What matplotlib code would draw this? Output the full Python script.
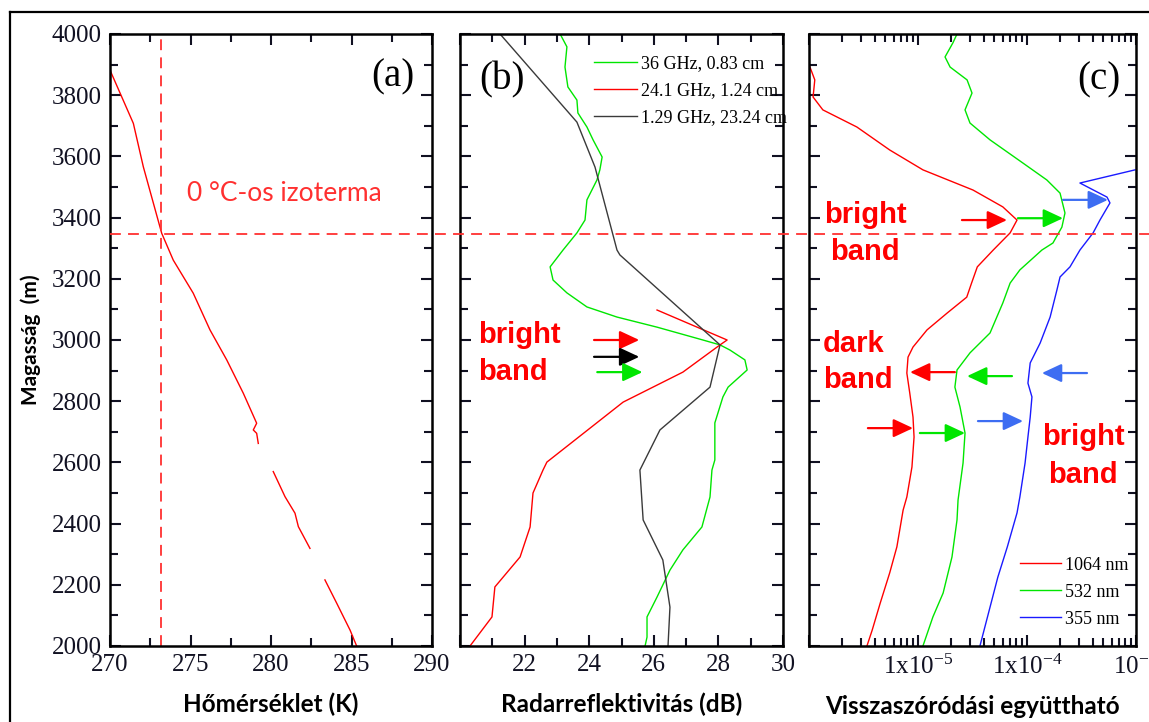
import numpy as np
import matplotlib
matplotlib.use("Agg")
import matplotlib.pyplot as plt
import matplotlib.transforms as mtransforms
from matplotlib.lines import Line2D
from matplotlib.ticker import MultipleLocator, FixedLocator, LogLocator, NullFormatter

plt.rcParams["font.family"] = ["Liberation Serif", "DejaVu Serif"]
plt.rcParams["mathtext.fontset"] = "custom"
plt.rcParams["mathtext.rm"] = "Liberation Serif"
plt.rcParams["mathtext.it"] = "Liberation Serif:italic"
plt.rcParams["mathtext.bf"] = "Liberation Serif:bold"

SANS = ["Lato", "DejaVu Sans"]
ARIAL = ["Liberation Sans", "DejaVu Sans"]

# (a) temperature sounding, NaN marks the gaps in the record
temp_k = [270.0, 271.45, 272.07, 273.21, 273.93, 274.55, 275.17, 276.21, 277.25,
          278.28, 279.11, 278.90, 279.11, 279.21, np.nan,
          280.14, 280.87, 281.49, 281.70, 282.42, np.nan,
          283.35, 284.08, 284.91, 285.32]
temp_h = [3882, 3708, 3566, 3349, 3261, 3207, 3153, 3033, 2935,
          2826, 2728, 2706, 2695, 2662, np.nan,
          2570, 2488, 2434, 2390, 2319, np.nan,
          2216, 2140, 2052, 2000]
iso_temp = 273.15
iso_height = 3345

# (b) radar reflectivity profiles
ka_db = [23.10, 23.31, 23.25, 23.34, 23.62, 23.65, 23.93, 24.12, 24.40, 24.33,
         24.24, 23.93, 23.87, 23.62, 23.19, 22.79, 22.88, 23.31, 23.93, 24.86,
         26.10, 27.52, 28.05, 28.36, 28.82, 28.89, 28.30, 28.14, 27.89, 27.89,
         27.80, 27.74, 27.49, 26.90, 26.50, 26.10, 25.79, 25.79, 25.73]
ka_h = [4000, 3958, 3892, 3827, 3784, 3742, 3696, 3654, 3598, 3556,
        3523, 3458, 3392, 3350, 3294, 3239, 3196, 3154, 3108, 3075,
        3042, 3000, 2984, 2967, 2935, 2902, 2846, 2814, 2729, 2608,
        2575, 2487, 2389, 2314, 2248, 2160, 2095, 2029, 2000]
k_db = [26.10, 28.27, 28.05, 26.90, 25.05, 22.69, 22.57, 22.26, 22.17, 21.86,
        21.08, 20.99, 20.31]
k_h = [3098, 3000, 2984, 2895, 2797, 2601, 2575, 2500, 2389, 2291,
       2193, 2095, 2000]
l_db = [21.24, 23.62, 24.18, 24.86, 24.95, 28.05, 27.74, 26.19, 25.57, 25.67,
        26.28, 26.50, 26.44]
l_h = [4000, 3712, 3565, 3294, 3278, 2984, 2846, 2706, 2575, 2412,
       2281, 2127, 2000]
radar_labels = ["36 GHz, 0.83 cm", "24.1 GHz, 1.24 cm", "1.29 GHz, 23.24 cm"]

# (c) lidar backscatter coefficient profiles
ir_beta = [1.02e-6, 1.13e-6, 1.09e-6, 1.34e-6, 2.75e-6, 5.5e-6, 1.11e-5, 3.2e-5,
           6.0e-5, 8.1e-5, 7.0e-5, 4.9e-5, 3.5e-5, 3.1e-5, 2.8e-5, 1.85e-5,
           1.21e-5, 9.0e-6, 8.1e-6, 7.9e-6, 8.4e-6, 9.0e-6, 9.2e-6, 8.8e-6,
           7.9e-6, 7.3e-6, 6.4e-6, 5.5e-6, 4.5e-6, 3.8e-6, 3.4e-6]
ir_h = [3892, 3850, 3794, 3752, 3696, 3621, 3556, 3490,
        3435, 3392, 3350, 3294, 3239, 3186, 3140, 3088,
        3033, 2977, 2944, 2892, 2827, 2748, 2683, 2585,
        2487, 2444, 2324, 2239, 2140, 2052, 2000]
vis_beta = [2.28e-5, 2.09e-5, 1.77e-5, 1.97e-5, 2.82e-5, 3.13e-5, 2.70e-5, 3.0e-5,
            4.58e-5, 9.2e-5, 1.52e-4, 2.01e-4, 2.23e-4, 2.09e-4, 1.73e-4, 1.37e-4,
            8.6e-5, 7.0e-5, 6.0e-5, 4.58e-5, 3.0e-5, 2.28e-5, 2.18e-5, 2.43e-5,
            2.70e-5, 2.59e-5, 2.33e-5, 2.28e-5, 2.05e-5, 1.70e-5, 1.37e-5, 1.11e-5]
vis_h = [4000, 3971, 3925, 3892, 3850, 3807, 3752, 3709,
         3654, 3578, 3523, 3480, 3415, 3369, 3317, 3294,
         3229, 3186, 3121, 3023, 2958, 2902, 2846, 2781,
         2696, 2598, 2477, 2412, 2291, 2173, 2095, 2000]
uv_beta = [9.8e-4, 3.06e-4, 5.42e-4, 5.77e-4, 4.67e-4, 4.04e-4, 3.06e-4, 2.48e-4,
           2.01e-4, 1.88e-4, 1.63e-4, 1.32e-4, 1.07e-4, 1.02e-4, 1.11e-4, 1.07e-4,
           1.02e-4, 9.6e-5, 8.6e-5, 8.1e-5, 6.6e-5, 5.4e-5, 4.58e-5, 3.7e-5]
uv_h = [3556, 3513, 3467, 3448, 3392, 3350, 3294, 3239,
        3206, 3163, 3075, 2990, 2925, 2859, 2814, 2748,
        2683, 2598, 2487, 2435, 2324, 2225, 2127, 2000]
lidar_labels = ["1064 nm", "532 nm", "355 nm"]

RED = "#ff0000"
GREEN = "#00e600"
BLACK = "#3a3a3a"
BLUE = "#1a1aff"
ARROW_BLUE = "#3d6df2"
DASH_RED = "#ff3030"

fig = plt.figure(figsize=(11.49, 7.22), dpi=100)
W, H = 1149.0, 722.0
bottom = 1 - 646 / H
height = 612 / H
ax_a = fig.add_axes([110 / W, bottom, 322 / W, height])
ax_b = fig.add_axes([460 / W, bottom, 323 / W, height])
ax_c = fig.add_axes([809 / W, bottom, 327 / W, height])

for ax in (ax_a, ax_b, ax_c):
    ax.set_ylim(2000, 4000)
    ax.yaxis.set_major_locator(MultipleLocator(200))
    ax.yaxis.set_minor_locator(MultipleLocator(100))
    ax.tick_params(which="both", direction="in", top=True, right=True,
                   width=1.5, labelsize=18, pad=6, colors="#111122")
    ax.tick_params(which="major", length=8)
    ax.tick_params(which="minor", length=6)
    for s in ax.spines.values():
        s.set_linewidth(1.8)

# panel (a)
ax_a.plot(temp_k, temp_h, color=RED, lw=1.0)
ax_a.axvline(iso_temp, color=DASH_RED, lw=1.3, ls=(0, (6, 4)))
ax_a.set_xlim(270, 290)
ax_a.xaxis.set_major_locator(MultipleLocator(5))
ax_a.xaxis.set_minor_locator(MultipleLocator(2.5))
ax_a.set_xlabel("Hőmérséklet (K)", family=SANS, weight="bold", fontsize=17.5, labelpad=12)
ax_a.set_ylabel("Magasság  (m)", family=SANS, weight="bold", fontsize=15, labelpad=8)
ax_a.text(0.88, 0.93, "(a)", transform=ax_a.transAxes, fontsize=28, ha="center", va="center")
ax_a.text(0.24, 0.74, "0 °C-os izoterma", transform=ax_a.transAxes, family=SANS,
          fontsize=19, color=DASH_RED, ha="left", va="center")

# panel (b)
ax_b.plot(ka_db, ka_h, color=GREEN, lw=1.0, label=radar_labels[0])
ax_b.plot(k_db, k_h, color=RED, lw=1.0, label=radar_labels[1])
ax_b.plot(l_db, l_h, color=BLACK, lw=1.0, label=radar_labels[2])
ax_b.set_xlim(20, 30)
ax_b.xaxis.set_major_locator(FixedLocator([20, 22, 24, 26, 28, 30]))
ax_b.xaxis.set_minor_locator(MultipleLocator(1))
ax_b.set_xticklabels(["", "22", "24", "26", "28", "30"])
ax_b.set_yticklabels([])
ax_b.set_xlabel("Radarreflektivitás (dB)", family=SANS, weight="bold", fontsize=17.5, labelpad=12)
ax_b.text(0.13, 0.925, "(b)", transform=ax_b.transAxes, fontsize=28, ha="center", va="center")
ax_b.legend(loc="upper left", bbox_to_anchor=(0.415, 0.965), frameon=False,
            fontsize=13, handlelength=2.4, handletextpad=0.2, labelspacing=0.55,
            borderpad=0, borderaxespad=0)
ax_b.text(20.56, 2990, "bright", family=ARIAL, weight="bold", fontsize=21, color=RED, va="baseline")
ax_b.text(20.56, 2869, "band", family=ARIAL, weight="bold", fontsize=21, color=RED, va="baseline")

# panel (c)
ax_c.set_xscale("log")
ax_c.plot(ir_beta, ir_h, color=RED, lw=1.0, label=lidar_labels[0])
ax_c.plot(vis_beta, vis_h, color=GREEN, lw=1.0, label=lidar_labels[1])
ax_c.plot(uv_beta, uv_h, color=BLUE, lw=1.0, label=lidar_labels[2])
ax_c.set_xlim(1e-6, 1e-3)
ax_c.xaxis.set_major_locator(FixedLocator([1e-6, 1e-5, 1e-4, 1e-3]))
ax_c.xaxis.set_minor_locator(LogLocator(base=10, subs=np.arange(2, 10)))
ax_c.xaxis.set_minor_formatter(NullFormatter())
ax_c.set_xticklabels(["", r"1x10$^{-5}$", r"1x10$^{-4}$", r"10$^{-3}$"])
ax_c.set_yticklabels([])
ax_c.set_xlabel("Visszaszóródási együttható", family=SANS, weight="bold", fontsize=17.5, labelpad=12)
ax_c.text(0.885, 0.925, "(c)", transform=ax_c.transAxes, fontsize=28, ha="center", va="center")
ax_c.legend(loc="lower left", bbox_to_anchor=(0.645, 0.03), frameon=False,
            fontsize=13, handlelength=2.3, handletextpad=0.2, labelspacing=0.55,
            borderpad=0, borderaxespad=0)
ax_c.text(3.27e-6, 3382, "bright", family=ARIAL, weight="bold", fontsize=21, color=RED,
          ha="center", va="baseline")
ax_c.text(3.27e-6, 3261, "band", family=ARIAL, weight="bold", fontsize=21, color=RED,
          ha="center", va="baseline")
ax_c.text(1.34e-6, 2961, "dark", family=ARIAL, weight="bold", fontsize=21, color=RED, va="baseline")
ax_c.text(1.34e-6, 2843, "band", family=ARIAL, weight="bold", fontsize=21, color=RED, va="baseline")
ax_c.text(3.27e-4, 2657, "bright", family=ARIAL, weight="bold", fontsize=21, color=RED,
          ha="center", va="baseline")
ax_c.text(3.27e-4, 2533, "band", family=ARIAL, weight="bold", fontsize=21, color=RED,
          ha="center", va="baseline")


def arrow(ax, tail, head, color):
    ax.annotate("", xy=head, xytext=tail,
                arrowprops=dict(arrowstyle="-|>,head_length=0.6,head_width=0.28",
                                color=color, lw=1.6, mutation_scale=20,
                                shrinkA=0, shrinkB=0))


# bright band markers in the radar panel
arrow(ax_b, (24.15, 3000), (25.55, 3000), RED)
arrow(ax_b, (24.15, 2945), (25.55, 2945), "black")
arrow(ax_b, (24.25, 2895), (25.65, 2895), GREEN)

# bright / dark band markers in the lidar panel
arrow(ax_c, (2.53e-5, 3392), (6.56e-5, 3392), RED)
arrow(ax_c, (8.26e-5, 3398), (2.14e-4, 3398), GREEN)
arrow(ax_c, (2.14e-4, 3458), (5.53e-4, 3458), ARROW_BLUE)
arrow(ax_c, (2.18e-5, 2895), (8.45e-6, 2895), RED)
arrow(ax_c, (7.28e-5, 2882), (2.82e-5, 2882), GREEN)
arrow(ax_c, (3.55e-4, 2892), (1.37e-4, 2892), ARROW_BLUE)
arrow(ax_c, (3.47e-6, 2712), (9.0e-6, 2712), RED)
arrow(ax_c, (1.04e-5, 2696), (2.70e-5, 2696), GREEN)
arrow(ax_c, (3.55e-5, 2735), (9.2e-5, 2735), ARROW_BLUE)

# melting level line running across all three panels
blend = mtransforms.blended_transform_factory(fig.transFigure, ax_a.transData)
fig.add_artist(Line2D([110 / W, 1.0], [iso_height, iso_height], transform=blend,
                      color=DASH_RED, lw=1.3, ls=(0, (6, 4))))

# outer frame
fig.add_artist(Line2D([10 / W, 1.0], [1 - 12 / H, 1 - 12 / H], transform=fig.transFigure,
                      color="black", lw=1.6))
fig.add_artist(Line2D([10 / W, 10 / W], [0, 1 - 12 / H], transform=fig.transFigure,
                      color="black", lw=1.6))

fig.savefig("out.png", dpi=100)
